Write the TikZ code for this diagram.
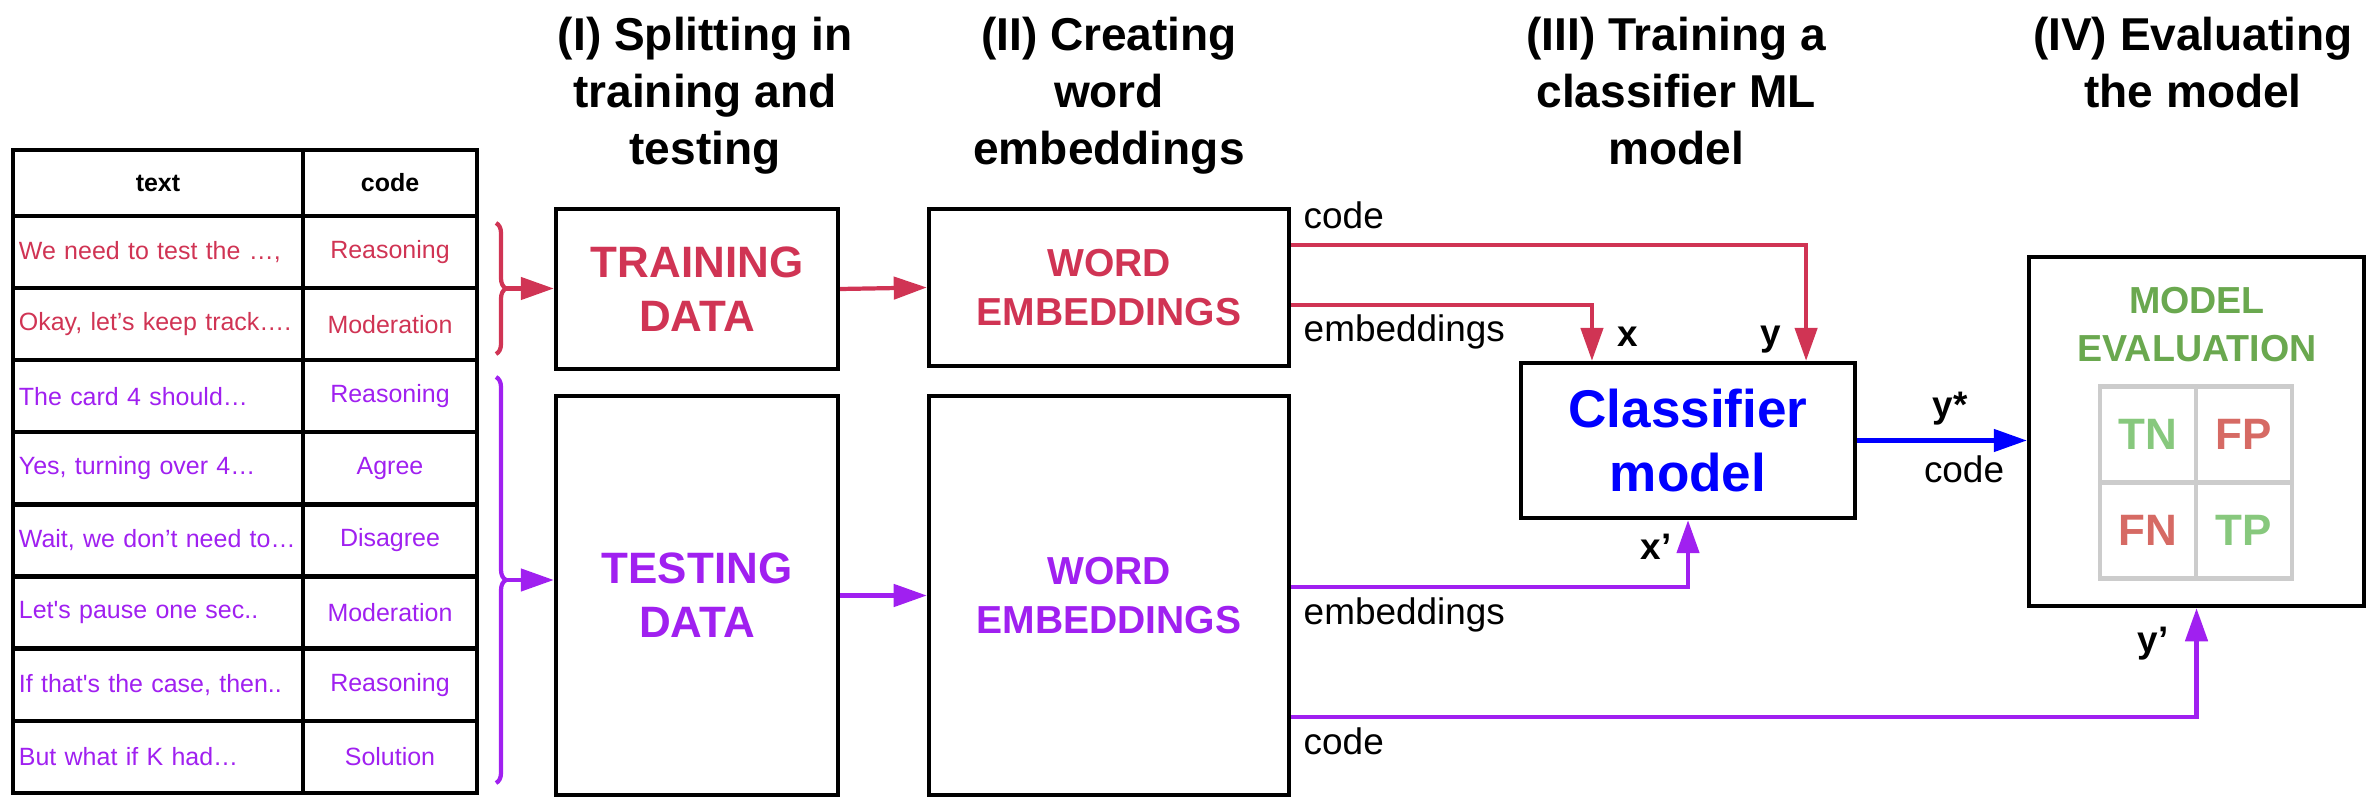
\documentclass[tikz,border=0pt]{standalone}
\usepackage{fontspec}
\newfontfamily\arial{Liberation Sans}
\usetikzlibrary{arrows.meta,decorations.pathreplacing}

\definecolor{trainred}{RGB}{208,52,84}
\definecolor{testpurple}{RGB}{160,32,240}
\definecolor{clfblue}{RGB}{0,0,255}
\definecolor{evalgreen}{RGB}{106,168,79}
\definecolor{okgreen}{RGB}{135,200,125}
\definecolor{badred}{RGB}{214,106,100}
\definecolor{gridgray}{RGB}{204,204,204}

\tikzset{
  head/.style={font=\arial\bfseries\fontsize{13.1}{16.2}\selectfont, align=center, anchor=north, inner sep=0pt},
  box/.style={draw, line width=1.2pt, inner sep=0pt, align=center},
  cell/.style={draw, line width=1.2pt, inner ysep=0pt, inner xsep=0.06cm, minimum height=0.721cm,
    font=\arial\fontsize{7.1}{8.5}\selectfont},
  hcell/.style={cell, minimum height=0.66cm, font=\arial\bfseries\fontsize{7.1}{8.5}\selectfont},
  bigtxt/.style={font=\arial\bfseries\fontsize{12.5}{15.4}\selectfont},
  wetxt/.style={font=\arial\bfseries\fontsize{11.1}{13.7}\selectfont},
  clftxt/.style={font=\arial\bfseries\fontsize{15.1}{18.2}\selectfont},
  evtxt/.style={font=\arial\bfseries\fontsize{10.7}{13.4}\selectfont, inner sep=0pt},
  gcell/.style={draw=gridgray, line width=1.3pt, minimum size=0.96cm, inner sep=0pt,
    font=\arial\bfseries\fontsize{12.5}{14}\selectfont},
  lbl/.style={font=\arial\fontsize{10.5}{12}\selectfont, inner sep=0pt},
  blbl/.style={lbl, font=\arial\bfseries\fontsize{10.5}{12}\selectfont},
  brc/.style={line width=1.2pt, decorate, decoration={brace, amplitude=0.1cm}},
  arr/.style={line width=1.2pt, -{Triangle[length=9.4pt,width=6.3pt]}},
  trarr/.style={arr, draw=trainred},
  tearr/.style={arr, draw=testpurple},
  clfarr/.style={arr, draw=clfblue}
}

\begin{document}
\begin{tikzpicture}[x=0.01cm, y=-0.01cm]
\useasboundingbox (0,0) rectangle (2380,810);

% step titles
\node[head] (h1) at (705,16) {(I) Splitting in\\training and\\testing};
\node[head] (h2) at (1109,16) {(II) Creating\\word\\embeddings};
\node[head] (h3) at (1676,16) {(III) Training a\\classifier ML\\model};
\node[head] (h4) at (2193,16) {(IV) Evaluating\\the model};

% data table
\node[hcell, text width=2.78cm, align=center] (thead) at (158,183) {text};
\node[hcell, minimum width=1.74cm] (chead) at (390,183) {code};
\foreach \txt/\cd/\clr [count=\i] in {
    {We need to test the …,}/Reasoning/trainred,
    {Okay, let’s keep track….}/Moderation/trainred,
    {The card 4 should…}/Reasoning/testpurple,
    {Yes, turning over 4…}/Agree/testpurple,
    {Wait, we don’t need to…}/Disagree/testpurple,
    {Let's pause one sec..}/Moderation/testpurple,
    {If that's the case, then..}/Reasoning/testpurple,
    {But what if K had…}/Solution/testpurple} {
  \pgfmathsetmacro\yc{216+72.1*(\i-0.5)}
  \node[cell, text width=2.78cm, align=left, text=\clr] (t\i) at (158,\yc) {\txt};
  \node[cell, minimum width=1.74cm, text=\clr] (c\i) at (390,\yc) {\cd};
}

% split braces
\draw[brc, trainred] (496,223) -- (496,354);
\draw[brc, testpurple] (496,377) -- (496,783);
\coordinate (trtip) at (506,288.5);
\coordinate (tetip) at (506,580);

% boxes
\node[box, minimum width=2.82cm, minimum height=1.6cm, text=trainred, bigtxt] (train) at (697,289) {TRAINING\\DATA};
\node[box, minimum width=2.82cm, minimum height=3.99cm, text=testpurple, bigtxt] (test) at (697,595.5) {TESTING\\DATA};
\node[box, minimum width=3.6cm, minimum height=1.57cm, text=trainred, wetxt] (wetrain) at (1109,287.5) {WORD\\EMBEDDINGS};
\node[box, minimum width=3.6cm, minimum height=3.99cm, text=testpurple, wetxt] (wetest) at (1109,595.5) {WORD\\EMBEDDINGS};
\node[box, minimum width=3.34cm, minimum height=1.55cm, text=clfblue, clftxt] (clf) at (1688,440.5) {Classifier\\model};
\node[box, minimum width=3.35cm, minimum height=3.49cm] (evalbox) at (2196.5,431.5) {};
\node[evtxt, text=evalgreen, align=center] (evtitle) at (2197,324.5) {MODEL\\EVALUATION};
\foreach \lbl/\cx/\cy/\clr in {TN/0/0/okgreen, FP/1/0/badred, FN/0/1/badred, TP/1/1/okgreen}
  \node[gcell, text=\clr] (cm\lbl) at (2148+96*\cx, 434.5+96*\cy) {\lbl};

% connectors
\draw[trarr] (trtip) -- (train.west |- trtip);
\draw[tearr] (tetip) -- (test.west |- tetip);
\draw[trarr] (train.east) -- (wetrain.west);
\draw[tearr] (test.east) -- (wetest.west);
\draw[trarr] ([yshift=4.25mm]wetrain.east) -| ([xshift=11.8mm]clf.north);
\draw[trarr] ([yshift=-1.75mm]wetrain.east) -| ([xshift=-9.6mm]clf.north);
\draw[clfarr] (clf.east) -- (clf.east -| evalbox.west);
\draw[tearr] ([yshift=0.85mm]wetest.east) -| (clf.south);
\draw[tearr] ([yshift=-12.15mm]wetest.east) -| (evalbox.south);

% connector labels
\node[lbl, anchor=base west] (lcode) at (1303,229) {code};
\node[lbl, anchor=base west] (lemb) at (1303,342) {embeddings};
\node[blbl, anchor=base] (lx) at (1628,347) {x};
\node[blbl, anchor=base] (ly) at (1771,346) {y};
\node[blbl, anchor=base] (lystar) at (1950,418) {y*};
\node[lbl, anchor=base] (lcode2) at (1964,483) {code};
\node[blbl, anchor=base] (lxp) at (1656,559) {x’};
\node[lbl, anchor=base west] (lemb2) at (1303,624) {embeddings};
\node[blbl, anchor=base] (lyp) at (2153,652) {y’};
\node[lbl, anchor=base west] (lcode3) at (1303,754) {code};
\end{tikzpicture}
\end{document}
